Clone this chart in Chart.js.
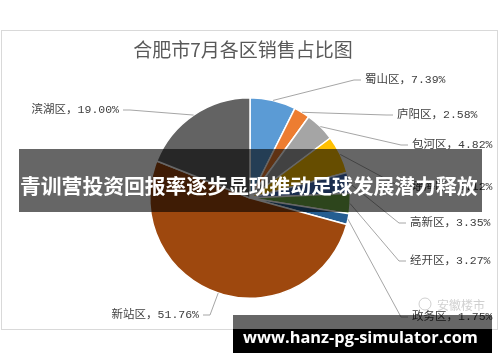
<!DOCTYPE html>
<html>
<head>
<meta charset="utf-8">
<script src="https://cdn.jsdelivr.net/npm/chart.js@4"></script>
<style>
  html, body { margin: 0; padding: 0; background: #fff; }
  #wrap { position: relative; width: 500px; height: 362px; overflow: hidden; }
  canvas { position: absolute; left: 0; top: 0; }
  #banner { position: absolute; left: 19px; top: 149px; width: 463px; height: 63px;
            background: rgba(0,0,0,0.6); }
  #bannerText { position: absolute; left: 20px; top: 185px; transform: translateY(-50%);
            color: #fff; font-family: 'Noto Sans CJK SC', sans-serif; font-weight: 700;
            font-size: 21px; white-space: nowrap; line-height: 1; }
  #wmGray { position: absolute; left: 233px; top: 315px; width: 259px; height: 14px; background: rgba(0,0,0,0.6); }
  #wmBlack { position: absolute; left: 233px; top: 329px; width: 259px; height: 24px; background: #000; }
  #wmText { position: absolute; left: 243px; top: 337px; transform: translateY(-50%);
            color: #fff; font-family: 'Open Sans', 'DejaVu Sans', sans-serif; font-weight: 700;
            font-size: 17px; white-space: nowrap; line-height: 1; }
</style>
</head>
<body>
<div id="wrap">
  <canvas id="c" width="500" height="362" style="width:500px;height:362px"></canvas>
  <div id="banner"></div>
  <div id="bannerText">青训营投资回报率逐步显现推动足球发展潜力释放</div>
  <div id="wmGray"></div>
  <div id="wmBlack"></div>
  <div id="wmText">www.hanz-pg-simulator.com</div>
</div>
<script>
// ---- data ----
const chartTitle = '合肥市7月各区销售占比图';
const categories = ['蜀山区', '庐阳区', '包河区', '瑶海区', '高新区', '经开区', '政务区', '新站区', '滨湖区'];
const shares = [7.39, 2.58, 4.82, 6.12, 3.35, 3.27, 1.75, 51.76, 19.00];
const sliceColors = ['#5B9BD5', '#ED7D31', '#A5A5A5', '#FFC000', '#4472C4', '#70AD47', '#255E91', '#9E480E', '#636363'];

// ---- label layout (text anchor: x, y, alignment) ----
const labelLayout = [
  [365, 80, 'left'],
  [397, 115, 'left'],
  [412, 145, 'left'],
  [412, 187, 'left'],
  [410, 223, 'left'],
  [410, 261, 'left'],
  [412, 317, 'left'],
  [199, 315, 'right'],
  [119, 110, 'right']
];

const labelFont = "11.5px 'Liberation Mono', 'Noto Sans CJK SC', monospace";

const decorPlugin = {
  id: 'decor',
  beforeDraw(chart) {
    const ctx = chart.ctx;
    ctx.save();
    ctx.fillStyle = '#fff';
    ctx.fillRect(0, 0, chart.width, chart.height);
    ctx.strokeStyle = '#d9d9d9';
    ctx.lineWidth = 1;
    ctx.strokeRect(1.5, 30.5, 496, 299);
    ctx.fillStyle = '#595959';
    ctx.font = "19px 'Noto Sans CJK SC', sans-serif";
    ctx.textAlign = 'center';
    ctx.textBaseline = 'middle';
    ctx.fillText(chartTitle, 243, 50);
    ctx.restore();
  },
  afterDatasetsDraw(chart) {
    const ctx = chart.ctx;
    const meta = chart.getDatasetMeta(0);
    ctx.save();
    ctx.font = labelFont;
    ctx.textBaseline = 'middle';
    meta.data.forEach((arc, i) => {
      const mid = (arc.startAngle + arc.endAngle) / 2;
      const sx = arc.x + Math.cos(mid) * arc.outerRadius;
      const sy = arc.y + Math.sin(mid) * arc.outerRadius;
      const [lx, ly, align] = labelLayout[i];
      const text = categories[i] + '，' + shares[i].toFixed(2) + '%';
      const ex = align === 'left' ? lx - 4 : lx + 4;
      const kx = align === 'left' ? ex - 7 : ex + 7;
      ctx.strokeStyle = '#a6a6a6';
      ctx.lineWidth = 1;
      ctx.beginPath();
      ctx.moveTo(sx, sy);
      ctx.lineTo(kx, ly);
      ctx.lineTo(ex, ly);
      ctx.stroke();
      ctx.fillStyle = '#404040';
      ctx.textAlign = align;
      ctx.fillText(text, lx, ly);
    });
    // faint social watermark
    ctx.fillStyle = 'rgba(170,170,170,0.55)';
    ctx.font = "12px 'Noto Sans CJK SC', sans-serif";
    ctx.textAlign = 'left';
    ctx.fillText('安徽楼市', 437, 305);
    ctx.strokeStyle = 'rgba(170,170,170,0.55)';
    ctx.beginPath();
    ctx.arc(425, 304, 6, 0, Math.PI * 2);
    ctx.stroke();
    ctx.restore();
  }
};

new Chart(document.getElementById('c'), {
  type: 'pie',
  data: {
    labels: categories,
    datasets: [{
      data: shares,
      backgroundColor: sliceColors,
      borderColor: '#ffffff',
      borderWidth: 1.5
    }]
  },
  options: {
    responsive: false,
    animation: false,
    devicePixelRatio: 1,
    layout: { padding: { left: 149, right: 149, top: 97, bottom: 63 } },
    plugins: {
      legend: { display: false },
      title: { display: false },
      tooltip: { enabled: false }
    }
  },
  plugins: [decorPlugin]
});

// fit overlay texts to measured widths
function fit(id, target) {
  const el = document.getElementById(id);
  const fs = parseFloat(getComputedStyle(el).fontSize);
  const w = el.getBoundingClientRect().width;
  if (w > 0) el.style.fontSize = (fs * target / w) + 'px';
}
fit('bannerText', 458);
fit('wmText', 235);
</script>
</body>
</html>
